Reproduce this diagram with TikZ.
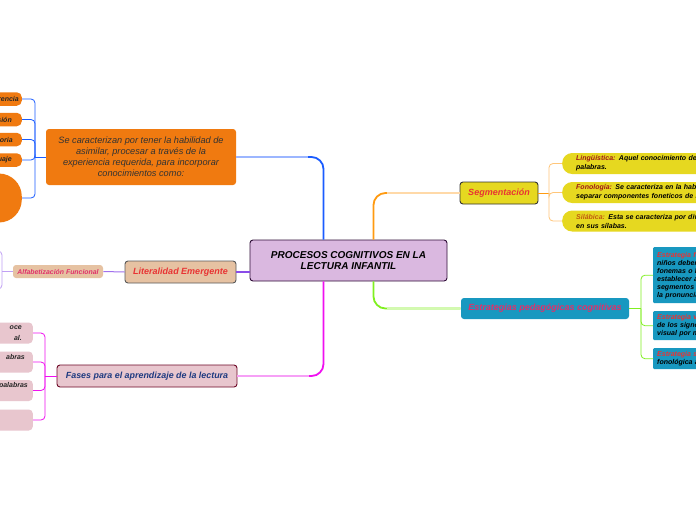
\documentclass[tikz,border=0pt]{standalone}
\usepackage{fontspec}
\setmainfont{Liberation Sans}
\usetikzlibrary{calc}

\definecolor{rootfill}{HTML}{DAB8E0}
\definecolor{rootline}{HTML}{2E0C36}
\definecolor{orfill}{HTML}{F07A10}
\definecolor{tanfill}{HTML}{E6C2A2}
\definecolor{pinkfill}{HTML}{E8C6CE}
\definecolor{yelfill}{HTML}{E6D820}
\definecolor{tealfill}{HTML}{1898C0}
\definecolor{txtred}{HTML}{E83434}
\definecolor{txtcrim}{HTML}{E0306A}
\definecolor{txtnavy}{HTML}{1E3A80}
\definecolor{txtdark}{HTML}{A01818}
\definecolor{txtsil}{HTML}{C05A10}
\definecolor{lnblue}{HTML}{1A5CFF}
\definecolor{lnblueL}{HTML}{9CB6FF}
\definecolor{lnmag}{HTML}{F010F0}
\definecolor{lnmagL}{HTML}{F6A0F6}
\definecolor{lnor}{HTML}{FF9A10}
\definecolor{lnorL}{HTML}{FFD9A8}
\definecolor{lngr}{HTML}{80F020}
\definecolor{lngrL}{HTML}{D4FAB0}
\definecolor{lnpur}{HTML}{8A4CE8}
\definecolor{lnpurL}{HTML}{C0A0F4}

\begin{document}
\begin{tikzpicture}[x=1pt,y=-1pt,
  topic/.style={rounded corners=3pt, line width=0.9pt, align=center, inner sep=0pt},
  leaf/.style={inner ysep=0pt, font=\fontsize{7}{9}\selectfont\bfseries\itshape},
  link/.style={rounded corners=12pt, line width=1.8pt},
  brace/.style={rounded corners=4pt, line width=0.8pt}]
  \useasboundingbox (0,0) rectangle (696,520);
  \fill[white] (0,0) rectangle (696,520);
  \clip (0,0) rectangle (696,520);

  % central topic
  \node[topic, draw=rootline, fill=rootfill, minimum width=197pt, minimum height=41pt,
    font=\fontsize{10}{11.5}\selectfont\bfseries\itshape] (root) at (348.5,260.5)
    {PROCESOS COGNITIVOS EN LA\\LECTURA INFANTIL};

  % main branches
  \node[topic, fill=orfill, minimum width=190pt, minimum height=56pt, text=black!80,
    font=\fontsize{9.2}{11}\selectfont\itshape] (caract) at (141,157)
    {Se caracterizan por tener la habilidad de\\asimilar, procesar a trav\'es de la\\
     experiencia requerida, para incorporar\\conocimientos como:};
  \node[topic, draw=black!65, fill=tanfill, minimum width=111pt, minimum height=22pt,
    text=txtred, font=\fontsize{9}{10}\selectfont\bfseries\itshape] (liter) at (180.5,272)
    {Literalidad Emergente};
  \node[topic, draw=rootline!70!red, fill=pinkfill, minimum width=180pt, minimum height=22pt,
    text=txtnavy, font=\fontsize{8.9}{10}\selectfont\bfseries\itshape] (fases) at (147,376)
    {Fases para el aprendizaje de la lectura};
  \node[topic, draw=black!80, fill=yelfill, minimum width=78pt, minimum height=22pt,
    text=txtred, font=\fontsize{9}{10}\selectfont\bfseries\itshape] (segm) at (499,193)
    {Segmentaci\'on};
  \node[topic, fill=tealfill, minimum width=168pt, minimum height=21pt,
    text=txtcrim, font=\fontsize{9}{10}\selectfont\bfseries\itshape] (estr) at (545,308.5)
    {Estrategias pedag\'ogicas cognitivas};

  \draw[link, lnblue] ([xshift=-25pt]root.north) |- (caract.east);
  \draw[line width=1.5pt, lnblueL] (caract.east) -- ++(72,0);
  \draw[link, lnmag] ([xshift=-25pt]root.south) |- (fases.east);
  \draw[line width=1.5pt, lnmagL] (fases.east) -- ++(72,0);
  \draw[link, lnor] ([xshift=25pt]root.north) |- (segm.west);
  \draw[line width=1.5pt, lnorL] (segm.west) -- ++(-73,0);
  \draw[link, lngr] ([xshift=25pt]root.south) |- (estr.west);
  \draw[line width=1.5pt, lngrL] (estr.west) -- ++(-74,0);
  \draw[line width=1.2pt, lnpur] (root.west |- liter.east) -- (liter.east);

  % Literalidad
  \node[topic, fill=tanfill, rounded corners=3pt, minimum width=90pt, minimum height=13pt,
    text=txtcrim, font=\fontsize{6.9}{8}\selectfont\bfseries\itshape] (alfab) at (58,271.5)
    {Alfabetizaci\'on Funcional};
  \draw[line width=1pt, lnpur!80!white] (liter.west) -- (alfab.east);
  \coordinate (bP) at (2,271.5);
  \coordinate (p1) at (-12,251);
  \coordinate (p2) at (-12,289);
  \draw[brace, lnpurL] (alfab.west) -- (bP);
  \draw[brace, lnpurL] (bP) |- (p1);
  \draw[brace, lnpurL] (bP) |- (p2);

  % caracteristicas
  \tikzset{oleaf/.style={leaf, fill=orfill, rounded corners=5pt, text width=40pt, align=right,
    anchor=east, minimum height=13.5pt, text=black!85}}
  \node[oleaf, inner xsep=3pt] (o1) at (22,99) {rencia};
  \node[oleaf, inner xsep=10pt] (o2) at (22,119.5) {si\'on};
  \node[oleaf, inner xsep=9pt] (o3) at (22,139.5) {oria};
  \node[oleaf, inner xsep=10pt] (o4) at (22,160) {uaje};
  \node[fill=orfill, rounded corners=23pt, minimum width=70pt, minimum height=49pt,
    anchor=east, inner sep=0pt] (o5) at (22,198) {};
  \coordinate (bB) at (35,157);
  \draw[brace, lnblue] (caract.west) -- (bB);
  \foreach \n in {o1,o2,o3,o4,o5}
    \draw[brace, lnblue] (bB) |- (\n.east);

  % fases
  \tikzset{pleaf/.style={leaf, fill=pinkfill, rounded corners=4pt, text width=50pt, align=right,
    anchor=east, minimum height=21pt, text=black!85, font=\fontsize{7}{10.5}\selectfont\bfseries\itshape}}
  \node[pleaf, inner xsep=11pt] (f1) at (33,333) {oce\\al.};
  \node[pleaf, inner xsep=8pt] (f2) at (33,362) {abras\\\phantom{x}};
  \node[pleaf, inner xsep=5pt] (f3) at (33,390.5) {palabras\\\phantom{x}};
  \node[pleaf, inner xsep=5pt] (f4) at (33,420) {\phantom{x}};
  \coordinate (bM) at (45,376);
  \draw[brace, lnmag] (fases.west) -- (bM);
  \foreach \n in {f1,f2,f3,f4}
    \draw[brace, lnmag] (bM) |- (\n.east);

  % segmentacion
  \tikzset{yleaf/.style={leaf, fill=yelfill, rounded corners=10pt, text width=170pt, align=left,
    anchor=west, inner xsep=14pt, minimum height=21pt}}
  \node[yleaf] (y1) at (562,163.5) {{\color{txtdark}Ling\"u\'istica:} Aquel conocimiento de\\palabras.};
  \node[yleaf] (y2) at (562,192.5) {{\color{txtdark}Fonolog\'ia:} Se caracteriza en la habil\\separar componentes foneticos de l};
  \node[yleaf] (y3) at (562,221) {{\color{txtsil}Sil\'abica:} Esta se caracteriza por divi\\en sus s\'ilabas.};
  \coordinate (bO) at (549,193);
  \draw[brace, lnor] (segm.east) -- (bO);
  \foreach \n in {y1,y2,y3}
    \draw[brace, lnorL!70!lnor] (bO) |- (\n.west);

  % estrategias
  \tikzset{tleaf/.style={leaf, fill=tealfill, rounded corners=1pt, text width=80pt, align=left,
    anchor=north west, inner xsep=4pt, font=\fontsize{7}{8}\selectfont\bfseries\itshape}}
  \node[tleaf, minimum height=56pt] (s1) at (653,247)
    {{\color{txtred}Estrategia f}\\ni\~nos deber\\fonemas o l\\establecer a\\segmentos\\la pronuncia};
  \node[tleaf, minimum height=29pt] (s2) at (653,311)
    {{\color{txtred}Estrategia v}\\de los signo\\visual por m};
  \node[tleaf, minimum height=21pt] (s3) at (653,348)
    {{\color{txtred}Estrategia s}\\fonol\'ogica a};
  \coordinate (bG) at (641,308.5);
  \draw[brace, lngr] (estr.east) -- (bG);
  \foreach \n in {s1,s2,s3}
    \draw[brace, lngr] (bG) |- (\n.west);
\end{tikzpicture}
\end{document}
